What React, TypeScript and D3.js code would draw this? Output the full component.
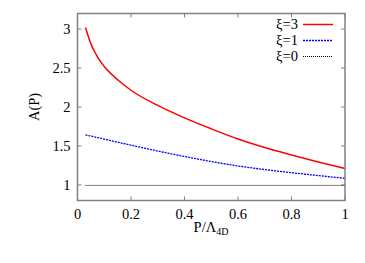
import React, { useEffect, useRef } from 'react';
import * as d3 from 'd3';

const pXi3 = [0.03, 0.05, 0.075, 0.1, 0.15, 0.2, 0.3, 0.4, 0.5, 0.6, 0.7, 0.8, 0.9, 1.0];
const xi3Values = [3.02, 2.81, 2.64, 2.52, 2.35, 2.215, 2.02, 1.86, 1.72, 1.59, 1.48, 1.385, 1.295, 1.21];
const pXi1 = [0.03, 0.1, 0.2, 0.3, 0.4, 0.5, 0.6, 0.7, 0.8, 0.9, 1.0];
const xi1Values = [1.642, 1.588, 1.51, 1.435, 1.365, 1.30, 1.243, 1.197, 1.157, 1.12, 1.085];
const pXi0 = [0.03, 1.0];
const xi0Values = [1, 1];
const xTicks = [0, 0.2, 0.4, 0.6, 0.8, 1];
const yTicks = [1, 1.5, 2, 2.5, 3];
const seriesLabels = ['ξ=3', 'ξ=1', 'ξ=0'];

function App() {
    const ref = useRef<SVGSVGElement | null>(null);

    useEffect(() => {
        if (!ref.current) return;
        const svg = d3.select(ref.current);
        svg.selectAll('*').remove();

        const left = 77.5, right = 345, top = 13.5, bottom = 200.5;
        const x = d3.scaleLinear().domain([0, 1]).range([left, right]);
        const y = d3.scaleLinear().domain([0.8, 3.2]).range([bottom, top]);
        const font = "'Liberation Serif', 'Times New Roman', serif";
        const frame = '#808080';

        // ticks (mirrored, inward)
        const g = svg.append('g');
        xTicks.forEach(t => {
            g.append('line').attr('x1', x(t)).attr('x2', x(t)).attr('y1', bottom).attr('y2', bottom - 4).attr('stroke', frame);
            g.append('line').attr('x1', x(t)).attr('x2', x(t)).attr('y1', top).attr('y2', top + 4).attr('stroke', frame);
            g.append('text').attr('x', x(t)).attr('y', bottom + 18).attr('text-anchor', 'middle')
                .attr('font-family', font).attr('font-size', 14.5).text(d3.format('~g')(t));
        });
        yTicks.forEach(t => {
            g.append('line').attr('x1', left).attr('x2', left + 4).attr('y1', y(t)).attr('y2', y(t)).attr('stroke', frame);
            g.append('line').attr('x1', right).attr('x2', right - 4).attr('y1', y(t)).attr('y2', y(t)).attr('stroke', frame);
            g.append('text').attr('x', left - 7).attr('y', y(t) + 5).attr('text-anchor', 'end')
                .attr('font-family', font).attr('font-size', 14.5).text(String(t));
        });

        // curves
        const mkLine = (ps: number[]) => d3.line<number>().x((d, i) => x(ps[i])).y(d => y(d)).curve(d3.curveMonotoneX);
        svg.append('path').attr('d', mkLine(pXi3)(xi3Values)).attr('fill', 'none').attr('stroke', '#ff0000').attr('stroke-width', 1.5);
        svg.append('path').attr('d', mkLine(pXi1)(xi1Values)).attr('fill', 'none').attr('stroke', '#0000ff').attr('stroke-width', 1.3).attr('stroke-dasharray', '2,1');
        svg.append('path').attr('d', mkLine(pXi0)(xi0Values)).attr('fill', 'none').attr('stroke', '#000').attr('stroke-width', 1)
            .attr('stroke-dasharray', '1,1').attr('transform', 'translate(0,0.5)');

        // frame
        svg.append('rect').attr('x', left).attr('y', top).attr('width', right - left).attr('height', bottom - top)
            .attr('fill', 'none').attr('stroke', frame).attr('stroke-width', 1.5);

        // legend
        const styles = [
            { stroke: '#ff0000', dash: null, w: 1.5 },
            { stroke: '#0000ff', dash: '2,1', w: 1.3 },
            { stroke: '#000', dash: '1,1', w: 1 },
        ];
        seriesLabels.forEach((lab, i) => {
            const ly = 24 + i * 16;
            svg.append('text').attr('x', 298).attr('y', ly + 5).attr('text-anchor', 'end')
                .attr('font-family', font).attr('font-size', 14.5).text(lab);
            const l = svg.append('line').attr('x1', 303).attr('x2', 333).attr('y1', ly + 0.5).attr('y2', ly + 0.5)
                .attr('stroke', styles[i].stroke).attr('stroke-width', styles[i].w);
            if (styles[i].dash) l.attr('stroke-dasharray', styles[i].dash);
        });

        // axis labels
        const xl = svg.append('text').attr('x', 211).attr('y', 232).attr('text-anchor', 'middle')
            .attr('font-family', font).attr('font-size', 14.5);
        xl.append('tspan').text('P/Λ');
        xl.append('tspan').attr('font-size', 10).attr('dy', 3).text('4D');
        svg.append('text').attr('transform', `translate(39,${y(2)}) rotate(-90)`).attr('text-anchor', 'middle')
            .attr('font-family', font).attr('font-size', 14.5).text('A(P)');
    }, []);

    return (
        <svg ref={ref} width={365} height={263} style={{ display: 'block', position: 'absolute', left: 0, top: 0 }} />
    );
}

export default App;
